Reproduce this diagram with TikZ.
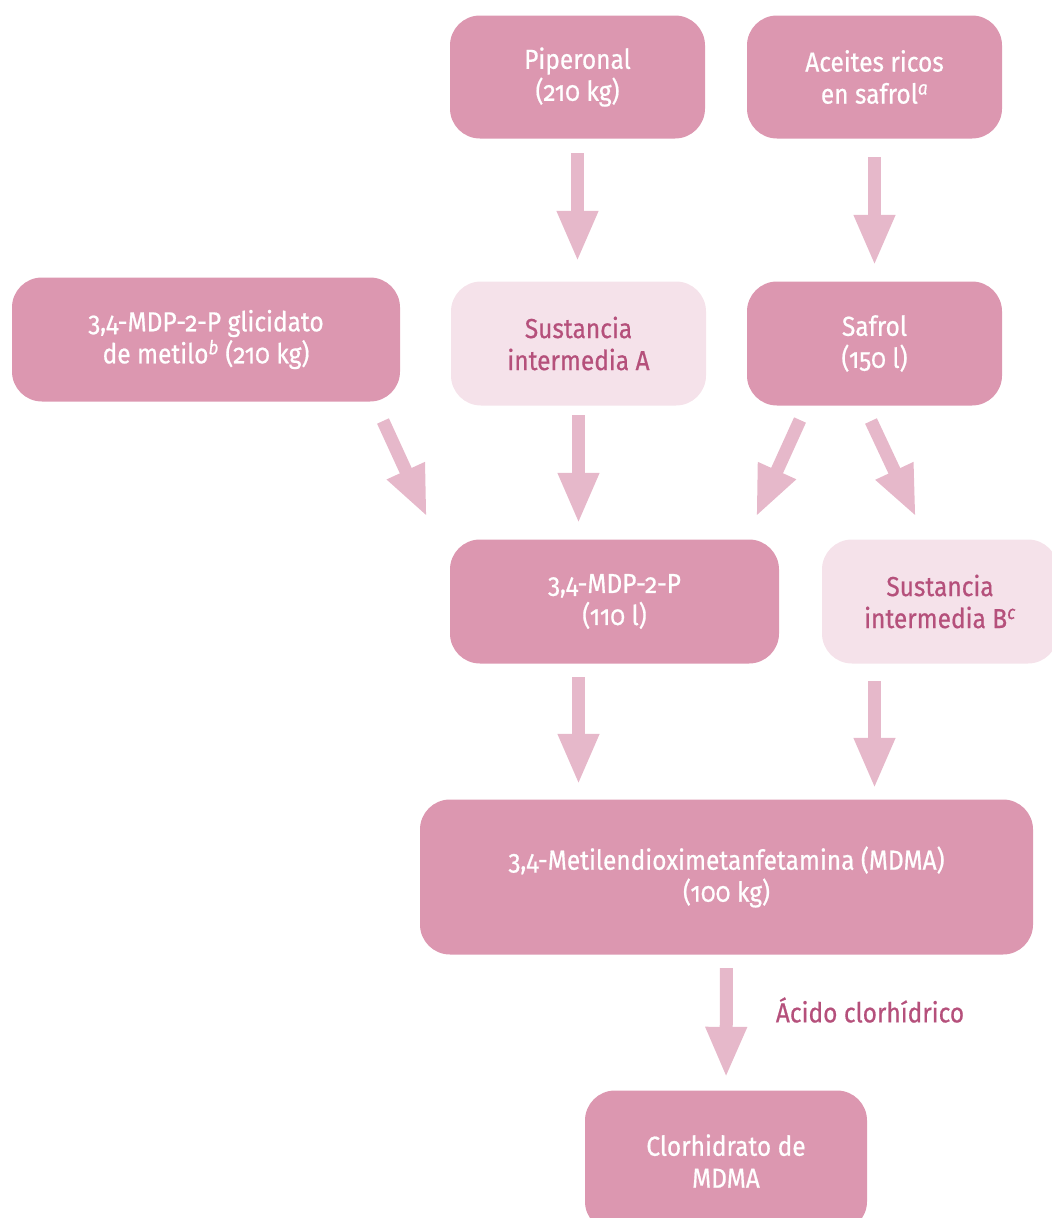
\documentclass[tikz,border=0pt]{standalone}
\usepackage{fontspec}
\setmainfont{Fira Sans}[Numbers=OldStyle, FakeStretch=0.89, FakeBold=0.6]
\usetikzlibrary{arrows.meta,calc}
\definecolor{boxdark}{HTML}{DC97B0}
\definecolor{boxlight}{HTML}{F5E2EA}
\definecolor{arrowc}{HTML}{E6B8CA}
\definecolor{textdark}{HTML}{B5507B}
\begin{document}
\begin{tikzpicture}[x=1pt,y=-1pt,
  box/.style={fill=boxdark, rounded corners=30pt, inner sep=0pt, text=white, align=center, font=\fontsize{27.5}{32}\selectfont},
  lightbox/.style={box, fill=boxlight, text=textdark},
  flow/.style={draw=arrowc, line width=13pt, -{Triangle[length=51pt,width=38pt]}},
  lbl/.style={text=textdark, inner sep=0pt, font=\fontsize{27.5}{32}\selectfont}
]
\useasboundingbox (0,0) rectangle (1052,1218);
\node[box, minimum width=255pt, minimum height=123pt] (pip) at (577.5,77) {Piperonal\\(210 kg)};
\node[box, minimum width=255pt, minimum height=123pt] (ace) at (874.5,77) {Aceites ricos\\en safrol\textsuperscript{\itshape a}};
\node[box, minimum width=388pt, minimum height=124pt] (glic) at (206,339.5) {3,4-MDP-2-P glicidato\\de metilo\textsuperscript{\itshape b} (210 kg)};
\node[lightbox, minimum width=255pt, minimum height=124pt] (intA) at (578.5,343.5) {Sustancia\\intermedia A};
\node[box, minimum width=255pt, minimum height=124pt] (saf) at (874.5,343.5) {Safrol\\(150 l)};
\node[box, minimum width=329pt, minimum height=124pt] (mdp) at (614.5,601.5) {3,4-MDP-2-P\\(110 l)};
\node[lightbox, minimum width=236pt, minimum height=124pt] (intB) at (940,601.5) {Sustancia\\intermedia B\textsuperscript{\itshape c}};
\node[box, minimum width=613pt, minimum height=155pt] (mdma) at (726.5,877) {3,4-Metilendioximetanfetamina (MDMA)\\(100 kg)};
\node[box, minimum width=282pt, minimum height=141pt] (clor) at (726,1161) {Clorhidrato de\\MDMA};
\node[lbl] (hcl) at (870,1010) {Ácido clorhídrico};

\coordinate (g1) at (383,421);
\coordinate (g2) at (427,517);
\coordinate (s1) at (800,420);
\coordinate (s2) at (756,517);
\coordinate (s3) at (871,421);
\coordinate (s4) at (916,517);

\draw[flow, shorten <=14.5pt, shorten >=19.5pt] (pip.south) -- (pip.south |- intA.north);
\draw[flow, shorten <=18.5pt, shorten >=15.5pt] (ace.south) -- (saf.north);
\draw[flow, shorten <=9.5pt, shorten >=15.5pt] (intA.south) -- (intA.south |- mdp.north);
\draw[flow] (g1) -- (g2);
\draw[flow] (s1) -- (s2);
\draw[flow] (s3) -- (s4);
\draw[flow, shorten <=13.5pt, shorten >=14.5pt] (intA.south |- mdp.south) -- (intA.south |- mdma.north);
\draw[flow, shorten <=17.5pt, shorten >=10.5pt] (saf.south |- intB.south) -- (saf.south |- mdma.north);
\draw[flow, shorten <=13.5pt, shorten >=12.5pt] (mdma.south) -- (clor.north);
\end{tikzpicture}
\end{document}
